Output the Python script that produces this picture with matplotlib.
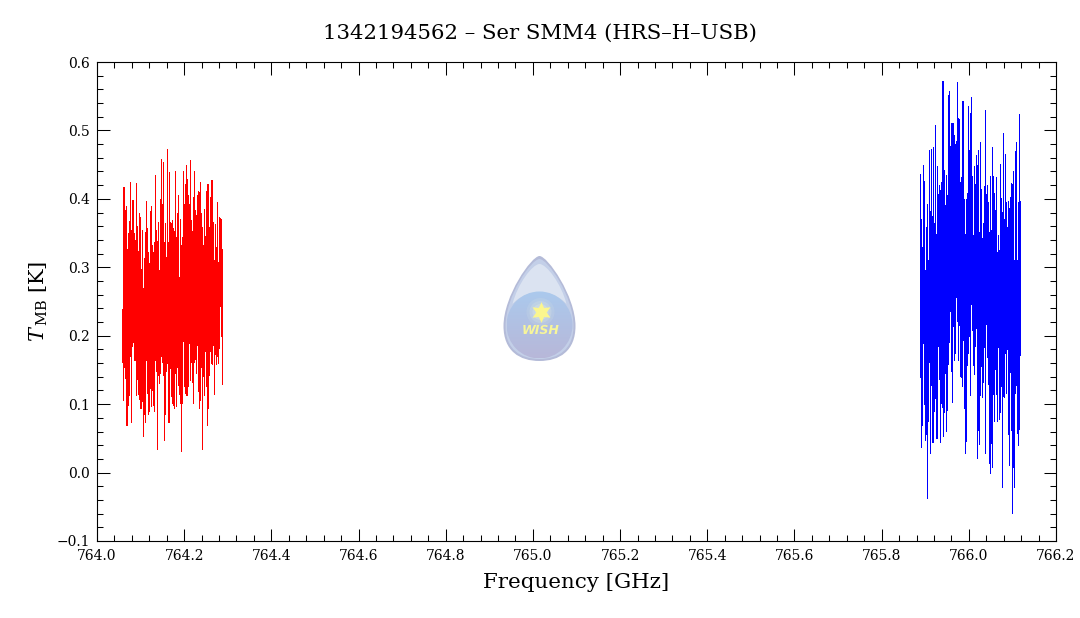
import numpy as np
import matplotlib
matplotlib.use("Agg")
import matplotlib.pyplot as plt
from matplotlib.path import Path
from matplotlib.patches import PathPatch, Circle, Ellipse

plt.rcParams['font.family'] = ['DejaVu Serif']
plt.rcParams['mathtext.fontset'] = 'dejavuserif'

title = "1342194562 \u2013 Ser SMM4 (HRS\u2013H\u2013USB)"
x_label = "Frequency [GHz]"
y_label = r"$T_{\,\mathrm{MB}}$ [K]"

x_ticks = [764.0, 764.2, 764.4, 764.6, 764.8, 765.0, 765.2, 765.4, 765.6, 765.8, 766.0, 766.2]
y_ticks = [-0.1, 0.0, 0.1, 0.2, 0.3, 0.4, 0.5, 0.6]

# band edges in GHz, channels are evenly spaced between them
red_band = (764.058, 764.287)
blue_band = (765.889, 766.118)

red_top = [
    0.239, 0.417, 0.417, 0.383, 0.390, 0.327, 0.350, 0.368, 0.424, 0.354,
    0.398, 0.398, 0.350, 0.340, 0.423, 0.360, 0.324, 0.380, 0.374, 0.298,
    0.355, 0.270, 0.313, 0.352, 0.397, 0.357, 0.322, 0.306, 0.382, 0.389,
    0.332, 0.322, 0.337, 0.435, 0.354, 0.339, 0.366, 0.296, 0.400, 0.458,
    0.392, 0.454, 0.337, 0.365, 0.315, 0.473, 0.337, 0.439, 0.366, 0.364,
    0.369, 0.358, 0.353, 0.440, 0.344, 0.379, 0.405, 0.286, 0.371, 0.332,
    0.344, 0.440, 0.392, 0.421, 0.450, 0.429, 0.405, 0.392, 0.457, 0.369,
    0.353, 0.402, 0.441, 0.384, 0.376, 0.405, 0.412, 0.410, 0.425, 0.380,
    0.359, 0.332, 0.385, 0.345, 0.411, 0.421, 0.421, 0.359, 0.402, 0.428,
    0.428, 0.366, 0.310, 0.363, 0.329, 0.396, 0.308, 0.374, 0.372, 0.370,
    0.327]
red_bottom = [
    0.162, 0.106, 0.155, 0.138, 0.069, 0.069, 0.099, 0.114, 0.171, 0.074,
    0.185, 0.191, 0.164, 0.164, 0.114, 0.137, 0.115, 0.107, 0.095, 0.095,
    0.104, 0.053, 0.085, 0.074, 0.165, 0.116, 0.085, 0.090, 0.124, 0.098,
    0.121, 0.099, 0.090, 0.165, 0.148, 0.035, 0.143, 0.131, 0.145, 0.170,
    0.162, 0.143, 0.047, 0.085, 0.148, 0.160, 0.074, 0.074, 0.153, 0.112,
    0.102, 0.099, 0.094, 0.145, 0.097, 0.155, 0.128, 0.115, 0.101, 0.031,
    0.101, 0.193, 0.127, 0.116, 0.113, 0.113, 0.126, 0.189, 0.136, 0.162,
    0.133, 0.101, 0.162, 0.166, 0.145, 0.187, 0.119, 0.095, 0.106, 0.155,
    0.034, 0.141, 0.113, 0.177, 0.126, 0.070, 0.095, 0.143, 0.178, 0.160,
    0.158, 0.187, 0.115, 0.173, 0.158, 0.171, 0.160, 0.182, 0.243, 0.200,
    0.130]

blue_top = [
    0.437, 0.371, 0.329, 0.449, 0.426, 0.296, 0.359, 0.392, 0.310, 0.471,
    0.382, 0.473, 0.375, 0.476, 0.364, 0.508, 0.348, 0.448, 0.407, 0.420,
    0.413, 0.425, 0.572, 0.572, 0.442, 0.391, 0.435, 0.406, 0.552, 0.558,
    0.477, 0.511, 0.511, 0.511, 0.493, 0.480, 0.485, 0.571, 0.518, 0.516,
    0.424, 0.432, 0.543, 0.543, 0.400, 0.349, 0.400, 0.408, 0.536, 0.471,
    0.525, 0.549, 0.433, 0.347, 0.448, 0.422, 0.464, 0.449, 0.471, 0.351,
    0.483, 0.414, 0.343, 0.365, 0.419, 0.530, 0.407, 0.420, 0.395, 0.352,
    0.433, 0.354, 0.476, 0.433, 0.409, 0.384, 0.432, 0.323, 0.347, 0.325,
    0.451, 0.401, 0.381, 0.496, 0.371, 0.466, 0.395, 0.359, 0.397, 0.387,
    0.403, 0.423, 0.422, 0.441, 0.311, 0.470, 0.483, 0.311, 0.395, 0.524,
    0.397]
blue_bottom = [
    0.139, 0.038, 0.069, 0.189, 0.100, 0.047, 0.056, -0.037, 0.076, 0.162,
    0.028, 0.128, 0.045, 0.045, 0.090, 0.109, 0.050, 0.050, 0.185, 0.137,
    0.045, 0.102, 0.096, 0.053, 0.089, 0.145, 0.061, 0.091, 0.159, 0.191,
    0.236, 0.148, 0.103, 0.214, 0.165, 0.175, 0.257, 0.222, 0.165, 0.216,
    0.141, 0.139, 0.127, 0.194, 0.094, 0.029, 0.046, 0.157, 0.175, 0.200,
    0.113, 0.246, 0.208, 0.157, 0.144, 0.185, 0.211, 0.021, 0.062, 0.042,
    0.113, 0.156, 0.110, 0.132, 0.184, 0.029, 0.217, 0.169, 0.129, 0.014,
    0.000, 0.043, 0.008, 0.115, 0.075, 0.151, 0.115, 0.075, 0.184, 0.078,
    0.089, 0.127, -0.021, 0.112, 0.110, 0.175, 0.116, 0.181, 0.056, 0.011,
    0.147, 0.062, -0.059, 0.008, -0.021, 0.116, 0.128, 0.058, 0.040, 0.064,
    0.172]

WIDTH, HEIGHT = 1080, 618


def draw_band(ax, band, top, bottom, color):
    freq = np.linspace(band[0], band[1], len(top))
    ax.vlines(freq, bottom, top, colors=color, linewidth=0.6, antialiased=False)


def drop_path(cx, y_top, y_bottom, half, y_wide):
    k = half * 0.55
    return Path([(cx, y_top), (cx + 8, y_top), (cx + half, y_wide - 30), (cx + half, y_wide),
                 (cx + half, y_bottom - k * 0.5), (cx + k, y_bottom), (cx, y_bottom),
                 (cx - k, y_bottom), (cx - half, y_bottom - k * 0.5), (cx - half, y_wide),
                 (cx - half, y_wide - 30), (cx - 8, y_top), (cx, y_top)],
                [Path.MOVETO] + [Path.CURVE4] * 12)


def draw_logo(fig):
    # drop logo, drawn in picture pixels with y going down
    logo = fig.add_axes([0, 0, 1, 1], zorder=3)
    logo.axis("off")
    logo.patch.set_alpha(0)

    cx = 539.5
    logo.add_patch(PathPatch(drop_path(cx, 256, 361, 36, 326), facecolor="#b4bbd8", edgecolor="none"))
    logo.add_patch(PathPatch(drop_path(cx, 259, 359, 34, 326), facecolor="#c3cfe8", edgecolor="none"))

    # upper pale shine
    shine = Path([(cx, 264), (cx + 7, 264), (cx + 22, 284), (cx + 27, 304),
                  (cx + 12, 288), (cx - 12, 288), (cx - 27, 304),
                  (cx - 22, 284), (cx - 7, 264), (cx, 264)],
                 [Path.MOVETO] + [Path.CURVE4] * 9)
    logo.add_patch(PathPatch(shine, facecolor="#dbe3f1", edgecolor="none"))

    # lower ball with a vertical gradient
    gradient = np.linspace(0, 1, 64).reshape(-1, 1)
    top_rgb = np.array([0.67, 0.79, 0.93])
    bottom_rgb = np.array([0.72, 0.72, 0.85])
    rgb = top_rgb + (bottom_rgb - top_rgb) * gradient[..., None]
    ball = logo.imshow(rgb, extent=(cx - 33, cx + 33, 358, 291), aspect="auto", zorder=2)
    ball.set_clip_path(Ellipse((cx, 325), 66, 67, transform=logo.transData))

    # soft glow behind the star
    for radius, alpha in [(14, 0.12), (11, 0.18), (8, 0.25), (5, 0.35)]:
        logo.add_patch(Circle((cx + 1, 312), radius, facecolor="#eef4e0", edgecolor="none",
                              alpha=alpha, zorder=3))
    logo.plot([cx + 1], [312], marker=(6, 1, 0), markersize=15, color="#fbf68e",
              markeredgewidth=0, zorder=4)
    logo.text(cx + 1, 331, "WISH", color="#f7f59a", fontsize=9, fontweight="bold",
              fontstyle="italic", family="DejaVu Sans", ha="center", va="center", zorder=4)

    logo.set_xlim(0, WIDTH)
    logo.set_ylim(HEIGHT, 0)


fig = plt.figure(figsize=(WIDTH / 100, HEIGHT / 100), dpi=100)
ax = fig.add_axes([97 / WIDTH, 1 - 541 / HEIGHT, (1056 - 97) / WIDTH, (541 - 62) / HEIGHT])

draw_band(ax, red_band, red_top, red_bottom, "#ff0000")
draw_band(ax, blue_band, blue_top, blue_bottom, "#0000ff")

ax.set_xlim(764.0, 766.2)
ax.set_ylim(-0.1, 0.6)
ax.set_xticks(x_ticks)
ax.set_yticks(y_ticks)
ax.set_xticks(np.arange(764.0, 766.2001, 0.04), minor=True)
ax.set_yticks(np.arange(-0.1, 0.6001, 0.02), minor=True)
ax.set_xticklabels([f"{t:.1f}" for t in x_ticks])
ax.set_yticklabels([f"{t:.1f}".replace("-", "\u2212") for t in y_ticks])
ax.tick_params(which="major", direction="in", top=True, right=True, length=9, width=0.75,
               labelsize=10)
ax.tick_params(axis="x", which="major", pad=6)
ax.tick_params(axis="y", which="major", pad=5)
ax.tick_params(which="minor", direction="in", top=True, right=True, length=4.5, width=0.75)
for side in ax.spines.values():
    side.set_linewidth(0.8)

ax.set_xlabel(x_label, fontsize=15.4, labelpad=7)
ax.set_ylabel(y_label, fontsize=15, labelpad=5)
fig.text(540 / WIDTH, 1 - 33 / HEIGHT, title, fontsize=15.3, ha="center", va="center")

draw_logo(fig)

fig.savefig("out.png", dpi=100)
